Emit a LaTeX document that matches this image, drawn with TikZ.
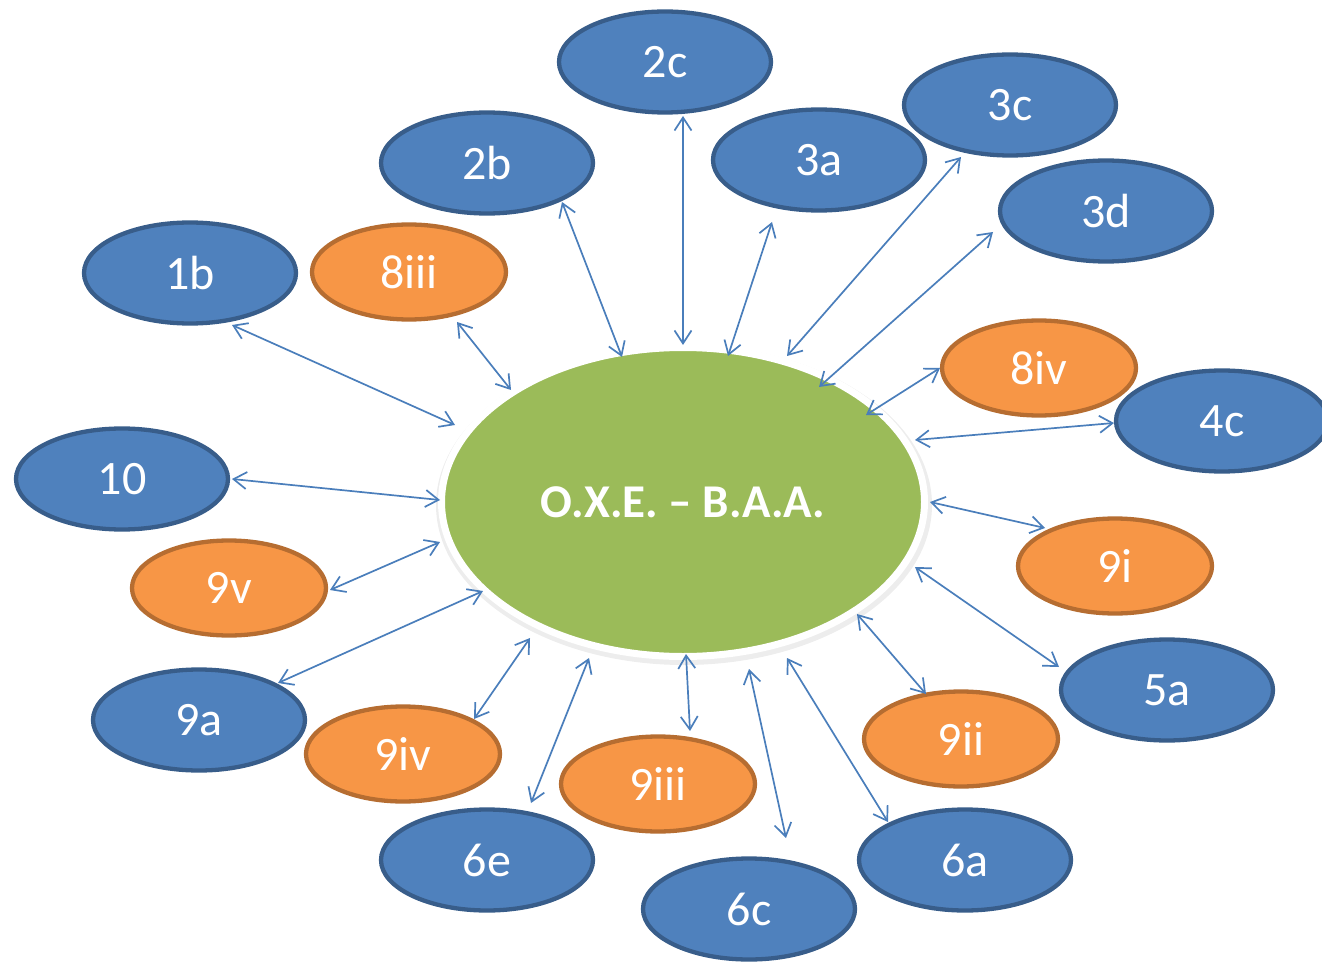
\documentclass[tikz,border=0pt]{standalone}
\usepackage{fontspec}
\setmainfont{Carlito}
\usetikzlibrary{shapes.geometric,arrows.meta}
\definecolor{bfill}{HTML}{4F81BD}
\definecolor{bline}{HTML}{385D8A}
\definecolor{ofill}{HTML}{F79646}
\definecolor{oline}{HTML}{B66D31}
\definecolor{gfill}{HTML}{9BBB59}
\definecolor{arr}{HTML}{4A7EBB}
\tikzset{
  bnode/.style={ellipse, fill=bfill, draw=bline, line width=4.3pt, minimum width=212pt, minimum height=101pt, text=white, font=\fontsize{48}{48}\selectfont, inner sep=0pt},
  onode/.style={ellipse, fill=ofill, draw=oline, line width=4.3pt, minimum width=194pt, minimum height=95pt, text=white, font=\fontsize{48}{48}\selectfont, inner sep=0pt},
  conn/.style={draw=arr, line width=1.7pt, {Straight Barb[length=13pt,width=17pt]}-{Straight Barb[length=13pt,width=17pt]}},
}
\begin{document}
\begin{tikzpicture}[x=1pt,y=-1pt]
\useasboundingbox (0,0) rectangle (1322,965);
\clip (0,0) rectangle (1322,965);
% central
\fill[gray!14] (684,505) ellipse [x radius=248, y radius=160];
\node[ellipse, fill=gfill, draw=white, line width=7pt, minimum width=483pt, minimum height=309pt, inner sep=0pt, text=white, font=\bfseries\fontsize{47}{47}\selectfont] (oxe) at (683,502) {O.X.E. – B.A.A.};
% outer nodes
\node[bnode] (n2c) at (665,62) {2c};
\node[bnode] (n2b) at (487,163) {2b};
\node[bnode] (n3a) at (819,160) {3a};
\node[bnode] (n3c) at (1010,105) {3c};
\node[bnode] (n3d) at (1106,211) {3d};
\node[bnode] (n1b) at (190,273) {1b};
\node[onode] (n8iii) at (409,272) {8iii};
\node[onode] (n8iv) at (1039,368) {8iv};
\node[bnode] (n4c) at (1222,421) {4c};
\node[bnode] (n10) at (122,479) {10};
\node[onode] (n9v) at (229,588) {9v};
\node[onode] (n9i) at (1115,566) {9i};
\node[bnode] (n9a) at (199,720) {9a};
\node[bnode] (n5a) at (1167,690) {5a};
\node[onode] (n9iv) at (403,754) {9iv};
\node[onode] (n9ii) at (961,739) {9ii};
\node[onode] (n9iii) at (658,784) {9iii};
\node[bnode] (n6e) at (487,860) {6e};
\node[bnode] (n6a) at (965,860) {6a};
\node[bnode] (n6c) at (749,909) {6c};
% connector ends
\coordinate (a2c) at (683,116); \coordinate (b2c) at (683,345);
\coordinate (a2b) at (562,202); \coordinate (b2b) at (622,357);
\coordinate (a3a) at (772,222); \coordinate (b3a) at (728,356);
\coordinate (a3c) at (961,157); \coordinate (b3c) at (787,356);
\coordinate (a3d) at (993,232); \coordinate (b3d) at (819,387);
\coordinate (a1b) at (232,325); \coordinate (b1b) at (455,425);
\coordinate (a8iii) at (457,322); \coordinate (b8iii) at (511,390);
\coordinate (a8iv) at (940,368); \coordinate (b8iv) at (866,415);
\coordinate (a4c) at (1114,423); \coordinate (b4c) at (915,440);
\coordinate (a10) at (232,479); \coordinate (b10) at (440,500);
\coordinate (a9v) at (330,590); \coordinate (b9v) at (440,542);
\coordinate (a9i) at (1045,528); \coordinate (b9i) at (930,502);
\coordinate (a9a) at (278,683); \coordinate (b9a) at (483,591);
\coordinate (a5a) at (1059,667); \coordinate (b5a) at (915,567);
\coordinate (a9iv) at (474,719); \coordinate (b9iv) at (530,638);
\coordinate (a9ii) at (926,694); \coordinate (b9ii) at (857,614);
\coordinate (a9iii) at (690,731); \coordinate (b9iii) at (686,654);
\coordinate (a6e) at (531,803); \coordinate (b6e) at (589,658);
\coordinate (a6a) at (888,822); \coordinate (b6a) at (787,658);
\coordinate (a6c) at (786,838); \coordinate (b6c) at (749,669);
\foreach \n in {2c,2b,3a,3c,3d,1b,8iii,8iv,4c,10,9v,9i,9a,5a,9iv,9ii,9iii,6e,6a,6c}
  \draw[conn] (a\n) -- (b\n);
\end{tikzpicture}
\end{document}
